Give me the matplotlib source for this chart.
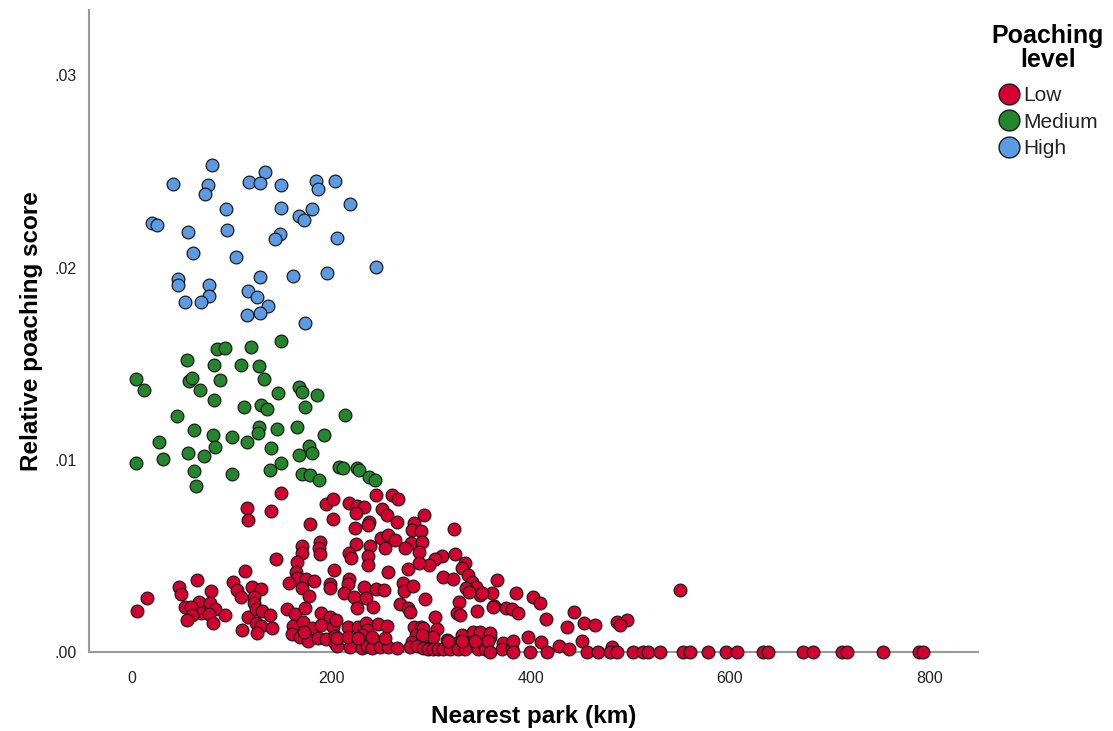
import matplotlib
matplotlib.use("Agg")
import matplotlib.pyplot as plt
from matplotlib.lines import Line2D

plt.rcParams['font.family'] = ['Liberation Sans', 'DejaVu Sans']

# High poaching level
high_x = [80.6, 41.1, 76.3, 73.6, 133.2, 117.4, 128.7, 149.2, 184.3, 187.0, 203.7, 219.1,
          94.6, 149.5, 167.9, 172.3, 180.9, 20.1, 25.4, 55.9, 95.6, 148.2, 143.8, 205.4,
          61.2, 104.1, 245.2, 45.9, 45.9, 77.0, 77.6, 53.5, 68.9, 128.7, 161.6, 196.0,
          116.4, 125.1, 136.5, 128.4, 115.7, 173.9]
high_y = [0.02532, 0.02434, 0.02428, 0.02385, 0.02498, 0.02446, 0.02440, 0.02427, 0.02449,
          0.02409, 0.02448, 0.02333, 0.02304, 0.02310, 0.02267, 0.02250, 0.02307, 0.02234,
          0.02220, 0.02184, 0.02194, 0.02175, 0.02148, 0.02153, 0.02076, 0.02054, 0.02004,
          0.01943, 0.01908, 0.01908, 0.01853, 0.01820, 0.01820, 0.01952, 0.01957, 0.01972,
          0.01877, 0.01846, 0.01801, 0.01764, 0.01754, 0.01711]

# Medium poaching level
med_x = [149.2, 85.6, 93.0, 119.1, 55.5, 82.3, 109.1, 127.1, 4.3, 12.0, 56.9, 60.5, 88.0,
         132.2, 67.9, 82.3, 146.5, 167.9, 170.6, 185.3, 112.4, 129.8, 135.8, 173.3, 214.1,
         45.5, 62.2, 81.3, 100.0, 115.7, 127.1, 126.1, 145.8, 165.9, 192.7, 26.8, 83.0,
         139.2, 177.3, 167.9, 180.9, 4.3, 30.8, 56.5, 72.3, 62.2, 63.9, 100.0, 138.5, 149.2,
         170.3, 178.6, 187.4, 208.0, 212.0, 226.1, 227.5, 237.8, 243.5]
med_y = [0.01617, 0.01576, 0.01581, 0.01588, 0.01518, 0.01491, 0.01491, 0.01486, 0.01418,
         0.01362, 0.01409, 0.01423, 0.01414, 0.01418, 0.01361, 0.01312, 0.01348, 0.01378,
         0.01352, 0.01338, 0.01276, 0.01286, 0.01262, 0.01274, 0.01232, 0.01226, 0.01153,
         0.01130, 0.01120, 0.01094, 0.01168, 0.01140, 0.01160, 0.01168, 0.01130, 0.01092,
         0.01068, 0.01059, 0.01071, 0.01024, 0.01033, 0.00984, 0.01002, 0.01033, 0.01019,
         0.00940, 0.00865, 0.00924, 0.00946, 0.00981, 0.00926, 0.00919, 0.00896, 0.00964,
         0.00955, 0.00957, 0.00946, 0.00910, 0.00894]

# Low poaching level
low_x = [149.5, 115.7, 116.4, 139.2, 194.4, 202.0, 178.3, 202.0, 170.3, 170.9, 188.9, 187.7,
         188.4, 144.8, 165.9, 113.1, 164.3, 202.7, 165.3, 174.3, 182.6, 157.5, 198.7, 198.4,
         170.3, 177.3, 65.5, 46.9, 49.5, 79.6, 15.4, 5.0, 101.7, 105.1, 109.1, 120.4, 129.1,
         122.1, 122.1, 66.9, 78.0, 52.9, 58.9, 83.0, 68.9, 77.0, 93.6, 60.5, 55.2, 81.3,
         110.7, 116.4, 124.1, 130.2, 138.5, 124.7, 129.8, 140.5, 125.7, 155.2, 163.6, 173.3,
         190.0, 199.0, 161.3, 171.6, 180.6, 190.0, 201.7, 160.3, 168.6, 176.6, 186.7, 194.4,
         203.4, 172.6,
         217.8, 225.5, 233.1, 244.9, 260.6, 266.6, 250.6, 255.6, 224.5, 223.8, 238.1, 237.1,
         265.6, 292.7, 283.0, 281.0, 290.0, 323.1, 249.9, 256.6, 263.9, 253.9, 224.5, 238.8,
         236.5, 236.5, 218.1, 219.8, 279.7, 274.3, 291.3, 288.3, 310.8, 303.8, 298.0, 288.0,
         324.1, 334.2, 330.8, 337.2, 341.5, 345.5, 349.2, 335.2, 338.5, 366.0, 361.6, 256.6,
         276.7, 311.8, 321.8, 218.1, 216.5, 233.1, 244.9, 252.9, 271.6, 272.9, 282.3, 213.0,
         223.1, 234.8, 226.1, 242.1, 268.9, 276.7, 279.0, 294.3, 304.1, 327.8, 325.8, 329.1,
         346.5, 363.3, 375.0, 216.5, 227.1, 234.8, 247.2, 255.6, 283.3, 290.0, 285.0, 305.8,
         294.7, 302.4, 315.8, 330.9, 342.5, 349.2, 359.3, 372.6, 325.8, 280.7,
         350.9, 385.3, 402.7, 409.4, 362.6, 381.0, 387.7, 443.9, 415.1, 453.9, 464.6, 436.8,
         486.4, 496.4, 489.7, 549.9, 359.3, 397.7, 410.4, 451.3, 428.8, 481.4, 438.8,
         204.7, 235.5, 230.5, 292.3, 290.7, 203.7,
         205.4, 218.8, 230.5, 235.5, 240.5, 248.9, 257.2, 265.6, 279.0, 285.7, 292.3,
         205.4, 217.1, 227.1, 240.5, 253.9, 297.3, 302.4, 307.4, 312.4, 319.1, 327.4,
         334.2, 347.5, 354.2, 371.0, 381.0, 317.4, 330.9, 344.2, 357.6, 382.6,
         359.3, 382.6, 399.4, 416.2, 456.3, 467.9, 479.7, 486.4, 503.1, 513.1, 518.1,
         529.9, 553.2, 559.9, 578.3, 595.8, 606.8, 632.9, 638.5, 673.7, 683.7, 712.2,
         717.2, 754.0, 789.8, 794.1]
low_y = [0.00828, 0.00747, 0.00686, 0.00733, 0.00770, 0.00794, 0.00666, 0.00690, 0.00553,
         0.00516, 0.00574, 0.00539, 0.00510, 0.00485, 0.00466, 0.00421, 0.00414, 0.00426,
         0.00386, 0.00381, 0.00371, 0.00357, 0.00355, 0.00331, 0.00331, 0.00290, 0.00376,
         0.00338, 0.00302, 0.00317, 0.00281, 0.00212, 0.00362, 0.00322, 0.00288, 0.00340,
         0.00326, 0.00288, 0.00256, 0.00262, 0.00256, 0.00236, 0.00236, 0.00224, 0.00201,
         0.00196, 0.00192, 0.00192, 0.00166, 0.00149, 0.00116, 0.00184, 0.00222, 0.00213,
         0.00191, 0.00149, 0.00137, 0.00126, 0.00100, 0.00225, 0.00198, 0.00229, 0.00203,
         0.00180, 0.00137, 0.00156, 0.00126, 0.00140, 0.00132, 0.00092, 0.00080, 0.00057,
         0.00074, 0.00066, 0.00048, 0.00106,
         0.00776, 0.00759, 0.00752, 0.00816, 0.00816, 0.00794, 0.00742, 0.00712, 0.00724,
         0.00643, 0.00678, 0.00660, 0.00678, 0.00711, 0.00672, 0.00634, 0.00629, 0.00640,
         0.00591, 0.00608, 0.00582, 0.00539, 0.00562, 0.00551, 0.00499, 0.00452, 0.00513,
         0.00487, 0.00565, 0.00539, 0.00570, 0.00522, 0.00499, 0.00485, 0.00452, 0.00461,
         0.00510, 0.00461, 0.00438, 0.00400, 0.00366, 0.00340, 0.00296, 0.00331, 0.00310,
         0.00374, 0.00305, 0.00418, 0.00430, 0.00392, 0.00378, 0.00378, 0.00354, 0.00340,
         0.00326, 0.00322, 0.00357, 0.00317, 0.00343, 0.00305, 0.00288, 0.00281, 0.00227,
         0.00236, 0.00250, 0.00230, 0.00210, 0.00274, 0.00180, 0.00262, 0.00201, 0.00192,
         0.00213, 0.00239, 0.00230, 0.00132, 0.00132, 0.00149, 0.00146, 0.00137, 0.00132,
         0.00132, 0.00088, 0.00120, 0.00083, 0.00080, 0.00062, 0.00088, 0.00106, 0.00102,
         0.00080, 0.00045, 0.00045, 0.00054,
         0.00305, 0.00305, 0.00288, 0.00253, 0.00236, 0.00222, 0.00201, 0.00210, 0.00170,
         0.00152, 0.00140, 0.00128, 0.00156, 0.00166, 0.00140, 0.00322, 0.00097, 0.00080,
         0.00054, 0.00057, 0.00031, 0.00024, 0.00014,
         0.00168, 0.00116, 0.00090, 0.00125, 0.00090, 0.00082,
         0.00031, 0.00026, 0.00021, 0.00031, 0.00021, 0.00026, 0.00026, 0.00021, 0.00026,
         0.00031, 0.00021,
         0.00073, 0.00078, 0.00073, 0.00078, 0.00073, 0.00016, 0.00016, 0.00016, 0.00016,
         0.00016, 0.00016, 0.00016, 0.00016, 0.00016, 0.00016, 0.00016, 0.00057, 0.00057,
         0.00057, 0.00057, 0.00057,
         0.0, 0.0, 0.0, 0.0, 0.0, 0.0, 0.0, 0.0, 0.0, 0.0, 0.0,
         0.0, 0.0, 0.0, 0.0, 0.0, 0.0, 0.0, 0.0, 0.0, 0.0, 0.0,
         0.0, 0.0, 0.0, 0.0]

levels = ["Low", "Medium", "High"]
colors = {"Low": "#D4002F", "Medium": "#23862A", "High": "#5B9BE4"}
x_ticks = [0, 200, 400, 600, 800]
y_ticks = [0.0, 0.01, 0.02, 0.03]
y_labels = [".00", ".01", ".02", ".03"]

fig = plt.figure(figsize=(11.13, 7.31), dpi=100)
ax = fig.add_axes([89/1113, 79/731, 889/1113, 642/731])

series = {"Low": (low_x, low_y), "Medium": (med_x, med_y), "High": (high_x, high_y)}
for lev in levels:
    xs, ys = series[lev]
    ax.scatter(xs, ys, s=84, c=colors[lev], edgecolors="#1a1a1a", linewidths=0.9,
               clip_on=False, zorder=3)

ax.set_xlim(-43.2, 849)
ax.set_ylim(0, 0.0334)
for side in ["top", "right"]:
    ax.spines[side].set_visible(False)
for side in ["left", "bottom"]:
    ax.spines[side].set_color("#999999")
    ax.spines[side].set_linewidth(1.5)

ax.set_xticks(x_ticks)
ax.set_xticklabels([str(t) for t in x_ticks])
ax.set_yticks(y_ticks)
ax.set_yticklabels(y_labels)
ax.tick_params(axis="x", length=0, pad=14, labelsize=11.5, labelcolor="#222222")
ax.tick_params(axis="y", length=0, pad=9, labelsize=11.5, labelcolor="#222222")

ax.set_xlabel("Nearest park (km)", fontsize=17.5, fontweight="bold", labelpad=13)
ax.set_ylabel("Relative poaching score", fontsize=17.5, fontweight="bold", labelpad=8)

# legend title drawn on its own, entries below it
fig.text(1048/1113, 1 - 48/731, "Poaching\nlevel", ha="center", va="center",
         fontsize=18, fontweight="bold", linespacing=1.05)
handles = [Line2D([], [], marker="o", linestyle="", markersize=15,
                  markerfacecolor=colors[lev], markeredgecolor="#1a1a1a",
                  markeredgewidth=1.0, label=lev) for lev in levels]
leg = fig.legend(handles=handles, loc="upper left",
                 bbox_to_anchor=(998.6/1113, 1 - 86/731), frameon=False,
                 fontsize=15, handletextpad=0.17, labelspacing=0.36,
                 handlelength=1.0, borderpad=0, borderaxespad=0)
for t in leg.get_texts():
    t.set_color("#222222")

fig.savefig("out.png", dpi=100)
